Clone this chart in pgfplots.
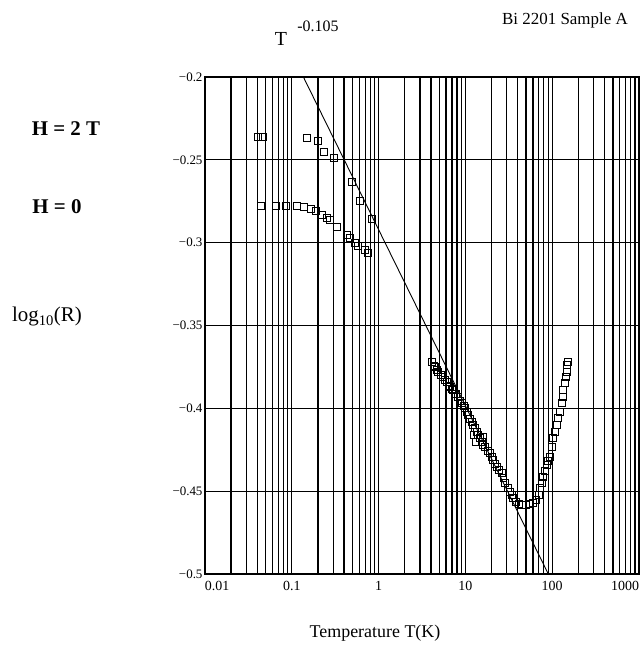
\documentclass[border=0pt]{standalone}
\usepackage{pgfplots}
\pgfplotsset{compat=1.18}
\usepackage{fontspec}
\setmainfont{Liberation Serif}

% H = 2 T, low temperature
\pgfplotstableread{
T y
0.0411 -0.2360
0.0470 -0.2360
0.148 -0.2366
0.199 -0.2385
0.237 -0.2455
0.309 -0.2491
0.490 -0.2636
0.611 -0.2747
0.846 -0.2859
}\fieldtwo

% H = 0, low temperature
\pgfplotstableread{
T y
0.0441 -0.2777
0.0653 -0.2777
0.0851 -0.2777
0.1139 -0.2777
0.1393 -0.2787
0.1664 -0.2797
0.190 -0.2807
0.2245 -0.2833
0.2564 -0.2853
0.2754 -0.2863
0.334 -0.2907
0.4286 -0.2954
0.4684 -0.2974
0.535 -0.3000
0.584 -0.3020
0.697 -0.3044
0.760 -0.3061
}\fieldzero

% H = 0, high temperature
\pgfplotstableread{
T y
4.09 -0.3722
4.30 -0.3745
4.47 -0.3749
4.70 -0.3770
4.88 -0.3779
5.20 -0.3800
5.56 -0.3809
5.80 -0.3830
6.09 -0.3839
6.40 -0.3862
6.65 -0.3869
7.00 -0.3885
7.26 -0.3889
7.80 -0.3915
8.28 -0.3930
8.70 -0.3955
9.06 -0.3970
9.50 -0.3985
9.89 -0.4000
10.3 -0.4020
10.8 -0.4040
11.3 -0.4062
11.8 -0.4081
12.3 -0.4100
12.5 -0.4160
12.9 -0.4121
13.2 -0.4200
13.5 -0.4140
14.1 -0.4161
14.7 -0.4180
15.4 -0.4201
16.0 -0.4170
16.1 -0.4218
16.8 -0.4232
18.0 -0.4255
19.2 -0.4271
20.0 -0.4292
20.9 -0.4312
21.9 -0.4335
22.9 -0.4352
24.5 -0.4370
26.2 -0.4392
27.4 -0.4420
28.6 -0.4452
30.5 -0.4480
32.6 -0.4503
34.0 -0.4525
35.6 -0.4543
38.0 -0.4565
41.0 -0.4577
45.0 -0.4580
50.0 -0.4580
55.0 -0.4578
60.0 -0.4570
65.0 -0.4555
70.0 -0.4520
73.0 -0.4480
75.7 -0.4452
78.9 -0.4413
82.5 -0.4375
86.4 -0.4342
90.0 -0.4315
94.4 -0.4292
98.7 -0.4232
103 -0.4181
107.7 -0.4141
112.7 -0.4101
117.5 -0.4060
123 -0.4020
128.6 -0.3970
132 -0.3930
134.2 -0.3889
140.4 -0.3849
144.2 -0.3809
146.9 -0.3779
149.2 -0.3738
150.9 -0.3718
}\highT

\begin{document}
\begin{tikzpicture}
\path[use as bounding box] (-205bp,-72bp) rectangle (437bp,574bp);
\begin{semilogxaxis}[
    scale only axis,
    width=434bp, height=497bp,
    xmin=0.01, xmax=1000,
    ymin=-0.5, ymax=-0.2,
    xtick={0.01,0.1,1,10,100,1000},
    xticklabels={\rlap{0.01},0.1,1,10,100,\llap{1000}},
    ytick={-0.5,-0.45,-0.4,-0.35,-0.3,-0.25,-0.2},
    yticklabels={−0.5,−0.45,−0.4,−0.35,−0.3,−0.25,−0.2},
    xticklabel style={font=\fontsize{14}{14}\selectfont, yshift=-4pt},
    yticklabel style={font=\fontsize{13}{13}\selectfont, xshift=1pt},
    grid=both,
    major grid style={black, line width=1.3pt},
    minor grid style={black, line width=1.3pt},
    axis line style={line width=1.5pt},
    tick style={draw=none},
]
    \addplot[only marks, mark=square, mark size=3.5pt, black, line width=0.8pt] table[x=T, y=y] {\fieldtwo};
    \addplot[only marks, mark=square, mark size=3.5pt, black, line width=0.8pt] table[x=T, y=y] {\fieldzero};
    \addplot[only marks, mark=square, mark size=3.5pt, black, line width=0.8pt] table[x=T, y=y] {\highT};
    % T^-0.105
    \addplot[black, line width=0.9pt] coordinates {(0.136,-0.2) (90.2,-0.5)};
\end{semilogxaxis}
\node[font=\fontsize{17}{17}\selectfont] at (360bp,554bp) {Bi 2201 Sample A};
\node[font=\fontsize{20}{20}\selectfont] at (76bp,535bp) {T};
\node[font=\fontsize{16}{16}\selectfont] at (113bp,548bp) {-0.105};
\node[font=\fontsize{21}{21}\selectfont\bfseries] at (-139bp,445bp) {H = 2 T};
\node[font=\fontsize{21}{21}\selectfont\bfseries] at (-148bp,367bp) {H = 0};
\node[font=\fontsize{21}{21}\selectfont] at (-158bp,257bp) {log\textsubscript{10}(R)};
\node[font=\fontsize{18}{18}\selectfont] at (170bp,-59bp) {Temperature T(K)};
\end{tikzpicture}
\end{document}
